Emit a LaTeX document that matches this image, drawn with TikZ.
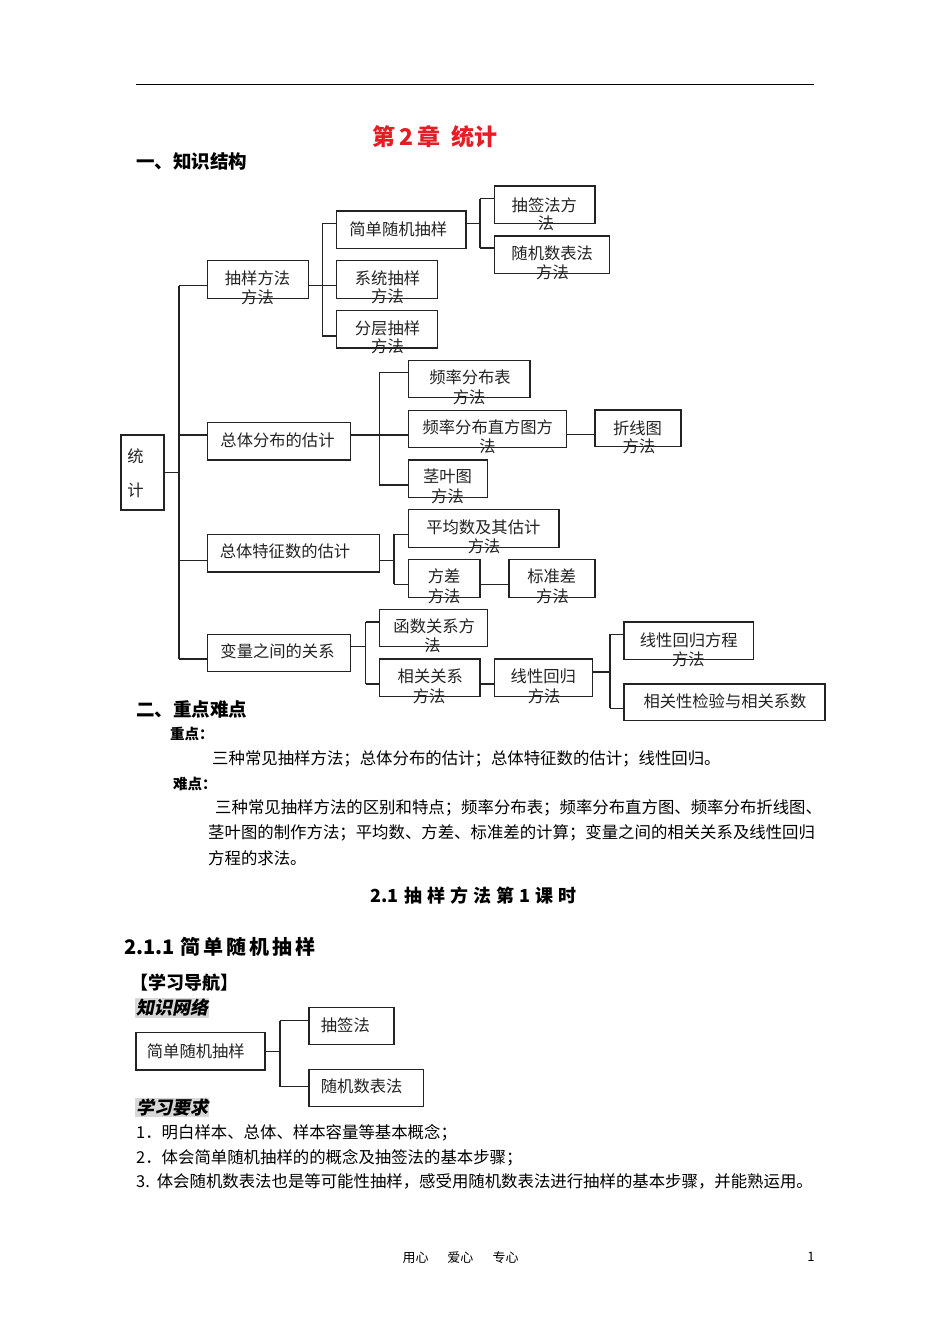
\documentclass[tikz,border=0pt]{standalone}
\usepackage{fontspec}
\setmainfont{Noto Sans CJK SC}
\newfontfamily\cjkslant[FakeSlant=0.2]{Noto Sans CJK SC}
\usetikzlibrary{calc}
\definecolor{titlered}{RGB}{228,30,36}
\definecolor{hlgray}{RGB}{215,215,215}
\definecolor{inkc}{RGB}{35,35,35}
\newcommand\mybox[5]{\node[box,minimum width={#4-#2},minimum height={#5-#3}] (#1) at ({(#2+#4)/2},{(#3+#5)/2}) {};}
\newcommand\mytl[4]{\node[lbl] (#1) at (#2,#3) {#4};}
\begin{document}
\begin{tikzpicture}[x=1pt,y=-1pt,
  box/.style={draw=inkc, line width=1.3pt, inner sep=0pt},
  lbl/.style={inner sep=0pt, font=\fontsize{16.3}{19}\selectfont, text=inkc},
  body/.style={inner sep=0pt, anchor=west, font=\fontsize{16.4}{19}\selectfont, text=black},
  conn/.style={draw=inkc, line width=1.3pt},
  head/.style={inner sep=0pt, anchor=west, font=\fontsize{18.5}{20}\selectfont\bfseries, text=black},
  hl/.style={inner sep=1pt, anchor=west, fill=hlgray, font=\fontsize{18}{20}\selectfont\cjkslant\bfseries, text=black}]
\useasboundingbox (0,0) rectangle (950,1344);
\fill[white] (0,0) rectangle (950,1344);
% top rule
\draw[line width=1pt] (136,84) -- (814,84);
\node[inner sep=0pt, font=\fontsize{23}{23}\selectfont\bfseries, text=titlered] (title) at (435,137) {第\,2\,章\ \ 统计};
\node[head] (h1) at (136,161) {一、知识结构};
% ---------- boxes ----------
\mybox{tj}{121}{435}{164}{510}
\mybox{cy}{207.3}{260.7}{308.3}{298.3}
\mybox{jd}{336.7}{211}{466}{248.3}
\mybox{xt}{336.7}{260.7}{437.3}{298.3}
\mybox{fc}{336.7}{310.3}{437.3}{348}
\mybox{cq}{494.3}{186}{595}{223.3}
\mybox{sj}{494.3}{236}{609.3}{273.3}
\mybox{fb}{207.3}{422.7}{350.7}{460}
\mybox{pl}{408.3}{360.7}{530}{397.7}
\mybox{zf}{408.3}{410.3}{566.7}{447.7}
\mybox{zx}{595}{410}{681}{446.7}
\mybox{jy}{408.3}{460}{487.3}{497.3}
\mybox{tz}{207.3}{534.3}{379.3}{572}
\mybox{pj}{408.3}{509.3}{559}{547.3}
\mybox{fch}{408.3}{559.7}{480}{597.3}
\mybox{bz}{509}{559.7}{595}{597.3}
\mybox{bl}{207.3}{634.3}{350.7}{671.7}
\mybox{hs}{379.3}{609.3}{487.3}{646.7}
\mybox{xg}{379.3}{659}{480}{696.7}
\mybox{xh}{494.3}{659}{592.3}{696.7}
\mybox{fcx}{624}{622}{753.3}{659.3}
\mybox{jyb}{624}{684}{825}{720.7}
% ---------- labels ----------
\mytl{tj1}{135.5}{456}{统}
\mytl{tj2}{135.5}{490.5}{计}
\mytl{cy1}{257.5}{278}{抽样方法}
\mytl{cy2}{257.5}{297.7}{方法}
\mytl{jd1}{398.3}{229}{简单随机抽样}
\mytl{xt1}{387.5}{278.3}{系统抽样}
\mytl{xt2}{387.5}{296.7}{方法}
\mytl{fc1}{387.5}{328}{分层抽样}
\mytl{fc2}{387.5}{346.7}{方法}
\mytl{cq1}{544.3}{205}{抽签法方}
\mytl{cq2}{546}{223}{法}
\mytl{sj1}{552.2}{253.3}{随机数表法}
\mytl{sj2}{552.5}{272.7}{方法}
\mytl{fb1}{277.5}{440}{总体分布的估计}
\mytl{pl1}{470}{377.3}{频率分布表}
\mytl{pl2}{469.2}{397.3}{方法}
\mytl{zf1}{487.8}{427.3}{频率分布直方图方}
\mytl{zf2}{487.5}{446.7}{法}
\mytl{zx1}{637.5}{428.3}{折线图}
\mytl{zx2}{639}{446.7}{方法}
\mytl{jy1}{447.5}{476.7}{茎叶图}
\mytl{jy2}{447.5}{496.7}{方法}
\mytl{tz1}{285}{551.7}{总体特征数的估计}
\mytl{pj1}{483.3}{527.3}{平均数及其估计}
\mytl{pj2}{484.2}{546.7}{方法}
\mytl{fch1}{444.2}{576.7}{方差}
\mytl{fch2}{444.2}{596.7}{方法}
\mytl{bz1}{551.7}{576.7}{标准差}
\mytl{bz2}{552.5}{596.7}{方法}
\mytl{bl1}{277.5}{651.7}{变量之间的关系}
\mytl{hs1}{434.2}{626.7}{函数关系方}
\mytl{hs2}{432.5}{645.7}{法}
\mytl{xg1}{430.3}{676.7}{相关关系}
\mytl{xg2}{429.2}{696.7}{方法}
\mytl{xh1}{543.3}{676.7}{线性回归}
\mytl{xh2}{544.2}{696.7}{方法}
\mytl{fcx1}{688.8}{640}{线性回归方程}
\mytl{fcx2}{688.3}{659.3}{方法}
\mytl{jyb1}{725}{701.7}{相关性检验与相关系数}
% ---------- connectors ----------
\coordinate (T1) at (179,285.7);
\coordinate (T2) at (179,435);
\coordinate (T3) at (179,560.3);
\coordinate (T4) at (179,659);
\draw[conn] (T1) -- (T4);
\draw[conn] (tj.east) -- (tj.east -| T1);
\draw[conn] (T1) -- (T1 -| cy.west);
\draw[conn] (T2) -- (T2 -| fb.west);
\draw[conn] (T3) -- (T3 -| tz.west);
\draw[conn] (T4) -- (T4 -| bl.west);
\coordinate (A1) at (322.3,223.7);
\coordinate (A2) at (322.3,285.7);
\coordinate (A3) at (322.3,336);
\draw[conn] (A1) -- (A3);
\draw[conn] (A2 -| cy.east) -- (A2 -| xt.west);
\draw[conn] (A1) -- (A1 -| jd.west);
\draw[conn] (A3) -- (A3 -| fc.west);
\coordinate (B0) at (480,223.7);
\coordinate (B1) at (480,198.7);
\coordinate (B2) at (480,248);
\draw[conn] (B0 -| jd.east) -- (B0);
\draw[conn] (B1) -- (B2);
\draw[conn] (B1) -- (B1 -| cq.west);
\draw[conn] (B2) -- (B2 -| sj.west);
\coordinate (C0) at (379.3,435);
\coordinate (C1) at (379.3,372.7);
\coordinate (C2) at (379.3,485);
\draw[conn] (C0 -| fb.east) -- (C0 -| zf.west);
\draw[conn] (C1) -- (C2);
\draw[conn] (C1) -- (C1 -| pl.west);
\draw[conn] (C2) -- (C2 -| jy.west);
\coordinate (D0) at (580,434.3);
\draw[conn] (D0 -| zf.east) -- (D0 -| zx.west);
\coordinate (E0) at (394,560.3);
\coordinate (E1) at (394,534.3);
\coordinate (E2) at (394,584.3);
\draw[conn] (E0 -| tz.east) -- (E0);
\draw[conn] (E1) -- (E2);
\draw[conn] (E1) -- (E1 -| pj.west);
\draw[conn] (E2) -- (E2 -| fch.west);
\draw[conn] (E2 -| fch.east) -- (E2 -| bz.west);
\coordinate (F0) at (365.7,646.7);
\coordinate (F1) at (365.7,622);
\coordinate (F2) at (365.7,684);
\draw[conn] (F0 -| bl.east) -- (F0);
\draw[conn] (F1) -- (F2);
\draw[conn] (F1) -- (F1 -| hs.west);
\draw[conn] (F2) -- (F2 -| xg.west);
\draw[conn] (F2 -| xg.east) -- (F2 -| xh.west);
\coordinate (G0) at (610,672);
\coordinate (G1) at (610,634.3);
\coordinate (G2) at (610,708.3);
\draw[conn] (G0 -| xh.east) -- (G0);
\draw[conn] (G1) -- (G2);
\draw[conn] (G1) -- (G1 -| fcx.west);
\draw[conn] (G2) -- (G2 -| jyb.west);
% ---------- section two ----------
\node[head] (h2) at (136,709) {二、重点难点};
\node[body, font=\fontsize{14.5}{16}\selectfont\bfseries] (zd) at (170,734) {重点：};
\node[body] (zdt) at (212,759) {三种常见抽样方法；总体分布的估计；总体特征数的估计；线性回归。};
\node[body, font=\fontsize{14.5}{16}\selectfont\bfseries] (nd) at (173,784) {难点：};
\node[body] (nd1) at (215,808) {三种常见抽样方法的区别和特点；频率分布表；频率分布直方图、频率分布折线图、};
\node[body] (nd2) at (208,833) {茎叶图的制作方法；平均数、方差、标准差的计算；变量之间的相关关系及线性回归};
\node[body] (nd3) at (208,858) {方程的求法。};
% ---------- 2.1 ----------
\node[inner sep=0pt, anchor=west, font=\fontsize{18}{20}\selectfont\bfseries] (s21) at (370,896) {2.1\kern6pt 抽\kern5pt 样\kern5pt 方\kern5pt 法\kern5pt 第\kern5pt 1\kern5pt 课\kern5pt 时};
\node[inner sep=0pt, anchor=west, font=\fontsize{20}{22}\selectfont\bfseries] (s211) at (124,947) {2.1.1\kern6pt 简\kern3pt 单\kern3pt 随\kern3pt 机\kern3pt 抽\kern3pt 样};
\node[inner sep=0pt, anchor=west, font=\fontsize{18}{20}\selectfont\bfseries] (xxdh) at (130,983) {【学习导航】};
\node[hl] (zswl) at (135,1008) {知识网络};
% small diagram
\mybox{sd}{136}{1032.7}{265}{1070}
\mybox{sc}{309}{1007.3}{394}{1044.3}
\mybox{ss}{309}{1069.3}{423.3}{1106.7}
\node[lbl, anchor=west] (sd1) at (146.7,1051.7) {简单随机抽样};
\node[lbl, anchor=west] (sc1) at (320.7,1025) {抽签法};
\node[lbl, anchor=west] (ss1) at (320.7,1086.7) {随机数表法};
\coordinate (H0) at (280,1051.7);
\coordinate (H1) at (280,1020.7);
\coordinate (H2) at (280,1086.7);
\draw[conn] (H0 -| sd.east) -- (H0);
\draw[conn] (H1) -- (H2);
\draw[conn] (H1) -- (H1 -| sc.west);
\draw[conn] (H2) -- (H2 -| ss.west);
\node[hl] (xxyq) at (135,1107.5) {学习要求};
\node[body] (r1) at (136,1133) {1．明白样本、总体、样本容量等基本概念；};
\node[body] (r2) at (136,1157.3) {2．体会简单随机抽样的的概念及抽签法的基本步骤；};
\node[body] (r3) at (136,1181.7) {3.\kern7pt 体会随机数表法也是等可能性抽样，感受用随机数表法进行抽样的基本步骤，并能熟运用。};
% footer
\node[inner sep=0pt, font=\fontsize{13}{14}\selectfont] (ft) at (460.5,1257.3) {用心\kern19pt 爱心\kern19pt 专心};
\node[inner sep=0pt, font=\fontsize{13}{14}\selectfont] (pg) at (811,1257.3) {1};
\end{tikzpicture}
\end{document}
